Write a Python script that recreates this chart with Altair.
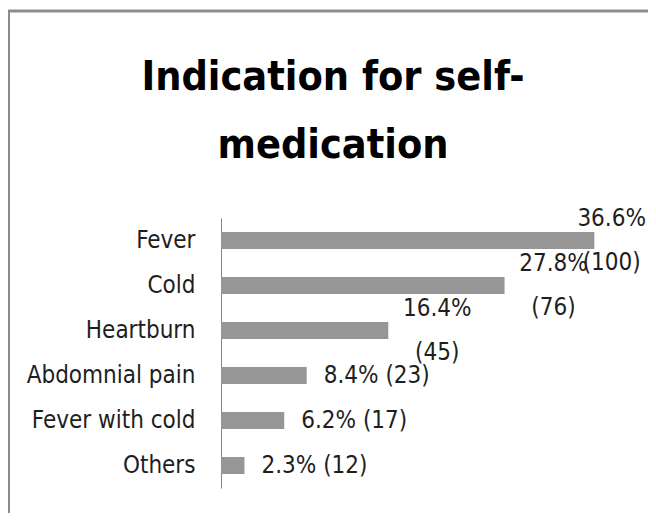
import altair as alt
import pandas as pd

title_lines = ["Indication for self-", "medication"]
categories = ["Fever\u00a0", "Cold", "Heartburn", "Abdomnial pain", "Fever with cold", "Others"]
percents = [36.6, 27.8, 16.4, 8.4, 6.2, 2.3]
counts = [100, 76, 45, 23, 17, 12]
wrapped = [True, True, True, False, False, False]

labels = []
for p, n, w in zip(percents, counts, wrapped):
    labels.append(f"{p}%\n({n})" if w else f"{p}% ({n})")

df = pd.DataFrame({"cat": categories, "pct": percents, "n": counts, "label": labels, "wrap": wrapped})

FONT = "DejaVu Sans Condensed, DejaVu Sans, sans-serif"
FS = 24
XMAX = 40

y_enc = alt.Y("cat:N", sort=categories, title=None,
              scale=alt.Scale(paddingInner=0.6, paddingOuter=0.3),
              axis=alt.Axis(domainColor="#868686", domainWidth=1, ticks=False, labelPadding=26,
                            labelFont=FONT, labelFontSize=FS, labelColor="#1e1e1e", labelLimit=300,
                            grid=False))
x_enc = alt.X("pct:Q", scale=alt.Scale(domain=[0, XMAX], nice=False), axis=None)

bars = alt.Chart(df).mark_bar(color="#969696", size=17).encode(x=x_enc, y=y_enc)

two_line = alt.Chart(df).transform_filter("datum.wrap").transform_calculate(
    lx=f"min(datum.pct + 4.8, {XMAX} - 1.7)"
).mark_text(font=FONT, fontSize=FS, color="#1e1e1e", align="center", baseline="middle",
            lineBreak="\n", lineHeight=44, dy=-22).encode(
    x=alt.X("lx:Q", scale=alt.Scale(domain=[0, XMAX], nice=False), axis=None),
    y=alt.Y("cat:N", sort=categories),
    text="label:N")

one_line = alt.Chart(df).transform_filter("!datum.wrap").mark_text(
    font=FONT, fontSize=FS, color="#1e1e1e", align="left", baseline="middle", dx=17).encode(
    x=x_enc, y=alt.Y("cat:N", sort=categories), text="label:N")

frame_df = pd.DataFrame({"k": [0]})
frame_top = alt.Chart(frame_df).mark_rule(color="#8c8c8c", strokeWidth=3).encode(
    x=alt.value(-213), x2=alt.value(440), y=alt.value(-207))
frame_left = alt.Chart(frame_df).mark_rule(color="#8c8c8c", strokeWidth=2).encode(
    x=alt.value(-212), y=alt.value(-208), y2=alt.value(310))

title = alt.Chart(frame_df).mark_text(
    text=title_lines, font=FONT, fontSize=41, fontWeight="bold", lineHeight=68,
    color="#000000", align="center", baseline="alphabetic").encode(
    x=alt.value(112), y=alt.value(-128))

chart = alt.layer(frame_top, frame_left, title, bars, two_line, one_line).properties(
    width=408, height=270,
    autosize=alt.AutoSizeParams(type="none"),
    padding={"left": 213, "top": 210, "right": 19, "bottom": 25},
).configure_view(stroke=None)

chart.save("out.html", embed_options={"renderer": "svg", "actions": False})
